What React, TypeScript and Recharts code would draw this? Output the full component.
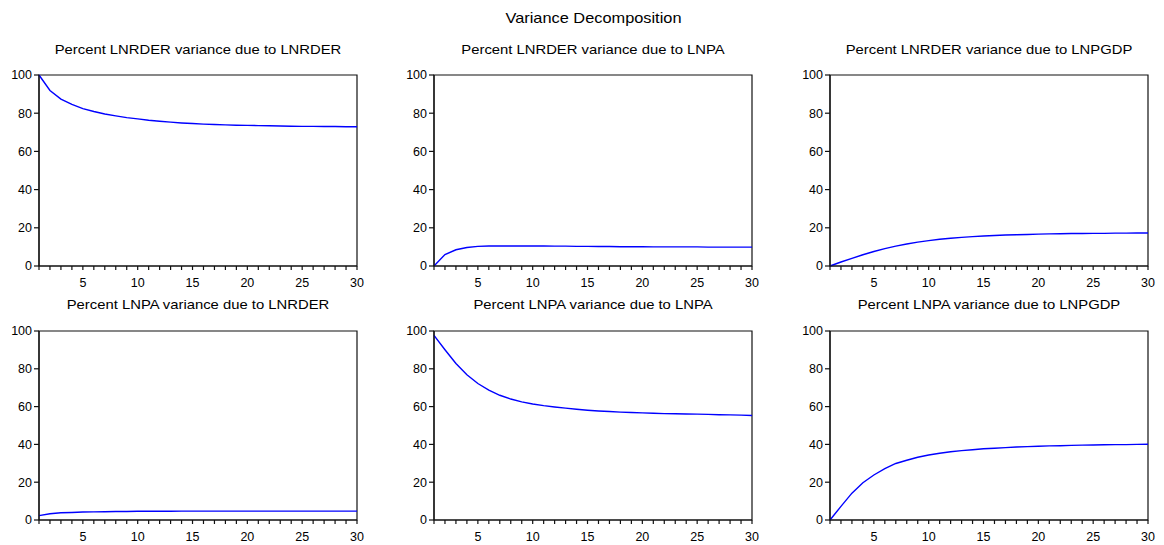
import { LineChart, Line, XAxis, YAxis, ReferenceArea } from 'recharts'

// forecast horizon (periods)
const PERIODS = [1, 2, 3, 4, 5, 6, 7, 8, 9, 10, 11, 12, 13, 14, 15, 16, 17, 18, 19, 20, 21, 22, 23, 24, 25, 26, 27, 28, 29, 30]
const X_TICKS = [1, 2, 3, 4, 5, 6, 7, 8, 9, 10, 11, 12, 13, 14, 15, 16, 17, 18, 19, 20, 21, 22, 23, 24, 25, 26, 27, 28, 29, 30]
const Y_TICKS = [0, 20, 40, 60, 80, 100]

const LNRDER_BY_LNRDER = [100, 91.9, 87.4, 84.6, 82.4, 80.9, 79.6, 78.6, 77.7, 77.0, 76.3, 75.8, 75.3, 74.9, 74.6, 74.3, 74.1, 73.9, 73.7, 73.6, 73.5, 73.4, 73.3, 73.2, 73.1, 73.1, 73.0, 73.0, 72.9, 72.9]
const LNRDER_BY_LNPA = [0, 6.0, 8.5, 9.7, 10.3, 10.5, 10.5, 10.5, 10.5, 10.5, 10.5, 10.4, 10.4, 10.3, 10.3, 10.2, 10.2, 10.1, 10.1, 10.1, 10.0, 10.0, 10.0, 10.0, 10.0, 9.9, 9.9, 9.9, 9.9, 9.9]
const LNRDER_BY_LNPGDP = [0, 2.1, 4.0, 5.9, 7.6, 9.1, 10.4, 11.5, 12.5, 13.3, 14.0, 14.5, 15.0, 15.4, 15.7, 16.0, 16.2, 16.4, 16.5, 16.7, 16.8, 16.9, 17.0, 17.0, 17.1, 17.1, 17.2, 17.2, 17.3, 17.3]
const LNPA_BY_LNRDER = [2.3, 3.3, 3.8, 4.0, 4.2, 4.3, 4.4, 4.5, 4.5, 4.6, 4.6, 4.6, 4.6, 4.7, 4.7, 4.7, 4.7, 4.7, 4.7, 4.7, 4.7, 4.7, 4.7, 4.7, 4.7, 4.7, 4.7, 4.7, 4.7, 4.7]
const LNPA_BY_LNPA = [97.7, 90.1, 82.8, 76.8, 72.2, 68.7, 66.0, 64.0, 62.5, 61.4, 60.5, 59.8, 59.2, 58.6, 58.1, 57.7, 57.4, 57.1, 56.9, 56.7, 56.5, 56.3, 56.2, 56.1, 56.0, 55.9, 55.7, 55.6, 55.5, 55.3]
const LNPA_BY_LNPGDP = [0, 7.2, 14.2, 19.7, 23.8, 27.2, 29.9, 31.6, 33.2, 34.4, 35.3, 36.1, 36.7, 37.2, 37.7, 38.0, 38.3, 38.6, 38.8, 39.0, 39.2, 39.3, 39.5, 39.6, 39.7, 39.8, 39.9, 39.9, 40.0, 40.1]

const FONT = '"Liberation Sans", Arial, sans-serif'
const AXIS = '#111'

// plot-area layout
const COLS = [39, 434, 830]
const ROWS = [
  { top: 75, h: 191, titleTop: 42 },
  { top: 331, h: 189, titleTop: 297 },
]
const PLOT_W = 318
const YW = 40
const MT = 6
const MR = 8
const XH = 30

const PANELS = [
  { title: 'Percent LNRDER variance due to LNRDER', values: LNRDER_BY_LNRDER, col: 0, row: 0 },
  { title: 'Percent LNRDER variance due to LNPA', values: LNRDER_BY_LNPA, col: 1, row: 0 },
  { title: 'Percent LNRDER variance due to LNPGDP', values: LNRDER_BY_LNPGDP, col: 2, row: 0 },
  { title: 'Percent LNPA variance due to LNRDER', values: LNPA_BY_LNRDER, col: 0, row: 1 },
  { title: 'Percent LNPA variance due to LNPA', values: LNPA_BY_LNPA, col: 1, row: 1 },
  { title: 'Percent LNPA variance due to LNPGDP', values: LNPA_BY_LNPGDP, col: 2, row: 1 },
]

const tickStyle = { fontSize: 12.5, fill: '#000', fontFamily: FONT }

function Panel({ title, values, col, row }: { title: string; values: number[]; col: number; row: number }) {
  const left = COLS[col]
  const r = ROWS[row]
  const data = PERIODS.map((p, i) => ({ period: p, value: values[i] }))
  return (
    <>
      <div style={{
        position: 'absolute', left, top: r.titleTop, width: PLOT_W, textAlign: 'center',
        fontSize: 13, lineHeight: '16px', whiteSpace: 'nowrap', transform: 'scaleX(1.14)', color: '#000',
      }}>
        {title}
      </div>
      <div style={{ position: 'absolute', left: left - YW, top: r.top - MT }}>
        <LineChart width={YW + PLOT_W + MR} height={MT + r.h + XH} data={data}
          margin={{ top: MT, right: MR, left: 0, bottom: 0 }}>
          <XAxis dataKey="period" type="number" domain={[1, 30]} ticks={X_TICKS} interval={0}
            tickFormatter={(v: number) => (v % 5 === 0 ? String(v) : '')}
            height={XH} tickSize={4} tickMargin={8}
            stroke={AXIS} strokeWidth={1.2} tick={tickStyle} />
          <YAxis type="number" domain={[0, 100]} ticks={Y_TICKS} interval={0} width={YW}
            tickSize={5} tickMargin={2}
            stroke={AXIS} strokeWidth={1.2} tick={tickStyle} />
          <ReferenceArea x1={1} x2={30} y1={0} y2={100} fill="none" stroke={AXIS} strokeWidth={1.2} />
          <Line type="linear" dataKey="value" stroke="#0000ff" strokeWidth={1.4} dot={false}
            isAnimationActive={false} />
        </LineChart>
      </div>
    </>
  )
}

export default function App() {
  return (
    <div style={{ position: 'absolute', left: 0, top: 0, width: 1164, height: 545, background: '#fff', fontFamily: FONT }}>
      <div style={{
        position: 'absolute', left: 434, top: 9, width: 319, textAlign: 'center',
        fontSize: 15, lineHeight: '18px', whiteSpace: 'nowrap', transform: 'scaleX(1.09)', color: '#000',
      }}>
        Variance Decomposition
      </div>
      {PANELS.map((p) => (
        <Panel key={p.title} {...p} />
      ))}
    </div>
  )
}
